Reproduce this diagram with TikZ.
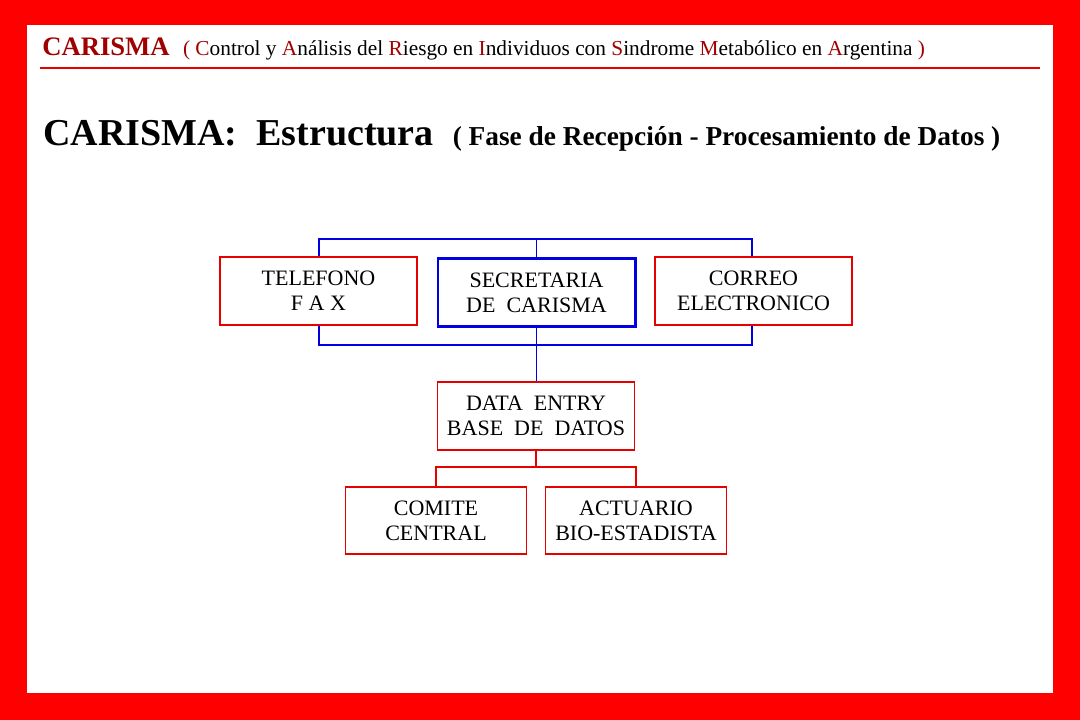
\documentclass[tikz,border=0pt]{standalone}
\usepackage{fontspec}
\setmainfont{Liberation Serif}
\definecolor{dred}{HTML}{A00000}
\definecolor{bred}{HTML}{E60000}
\definecolor{bblue}{HTML}{0000E0}
\begin{document}
\begin{tikzpicture}[x=0.75pt,y=-0.75pt,
 box/.style={draw=bred,line width=1.2pt,minimum width=148pt,minimum height=51pt,align=center,font=\fontsize{16.5}{19}\selectfont,inner sep=0pt},
 bl/.style={draw=bblue,line width=1.3pt},
 rl/.style={draw=bred,line width=1.2pt},
 R/.style={text=dred}]
\fill[red] (0,0) rectangle (1080,720);
\fill[white] (27,25) rectangle (1053,693);
\useasboundingbox (0,0) rectangle (1080,720);
\node[anchor=base west,inner sep=0pt] (h) at (42,56) {\fontsize{20}{20}\selectfont\bfseries\color{dred}CARISMA\ \ \mdseries\fontsize{16}{18}\selectfont\color{black}{\color{dred}(} {\color{dred}C}ontrol y {\color{dred}A}nálisis del {\color{dred}R}iesgo en {\color{dred}I}ndividuos con {\color{dred}S}indrome {\color{dred}M}etabólico en {\color{dred}A}rgentina {\color{dred})}};
\draw[bred,line width=0.8pt] (40,68) -- (1040,68);
\node[anchor=base west,inner sep=0pt] (t) at (43,146) {\fontsize{28.5}{30}\selectfont\bfseries CARISMA:\ \ Estructura\ \ \fontsize{20.5}{24}\selectfont ( Fase de Recepción - Procesamiento de Datos )};
\node[box] (tel) at (318.5,291) {TELEFONO\\F A X};
\node[box,draw=bblue,line width=2pt] (sec) at (536.5,292.5) {SECRETARIA\\DE\ \ CARISMA};
\node[box] (cor) at (753.5,291) {CORREO\\ELECTRONICO};
\node[box] (dat) at (536,416) {DATA\ \ ENTRY\\BASE\ \ DE\ \ DATOS};
\node[box,minimum width=136pt,minimum height=50pt] (com) at (436,520.5) {COMITE\\CENTRAL};
\node[box,minimum width=136pt,minimum height=50pt] (act) at (636,520.5) {ACTUARIO\\BIO-ESTADISTA};
\coordinate (tl) at (319,239); \coordinate (tr) at (752,239);
\coordinate (bl) at (319,345); \coordinate (br) at (752,345);
\draw[bl] (tel.north -| tl) -- (tl) -- (tr) -- (cor.north -| tr);
\draw[bl] (sec.north) -- (sec.north |- tl);
\draw[bl] (tel.south -| bl) -- (bl) -- (br) -- (cor.south -| br);
\draw[bl] (sec.south) -- (sec.south |- dat.north);
\coordinate (m) at (536,467);
\draw[rl] (dat.south) -- (m);
\draw[rl] (com.north) -- (com.north |- m) -- (act.north |- m) -- (act.north);
\end{tikzpicture}
\end{document}
